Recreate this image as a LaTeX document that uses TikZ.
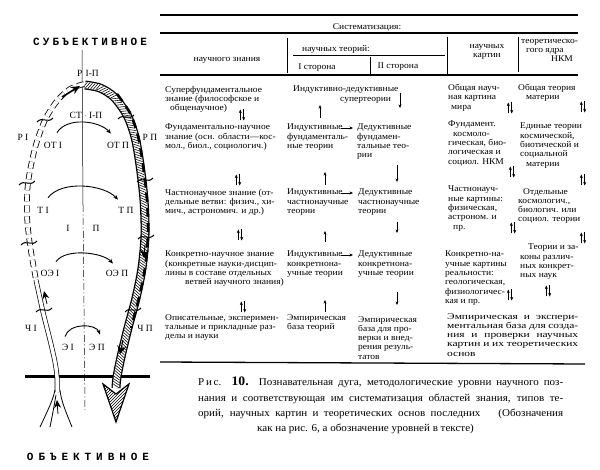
\documentclass[tikz,border=0pt]{standalone}
\usepackage{fontspec}
\setmainfont{Liberation Serif}[FakeStretch=1.08]
\newfontfamily\plainserif{Liberation Serif}
\newfontfamily\widefont{Liberation Serif}[FakeStretch=1.3]
\newfontfamily\captfont{Liberation Serif}[FakeStretch=1.05]
\newfontfamily\monofnt{Liberation Mono}
\usetikzlibrary{decorations.markings,arrows.meta,patterns,calc}
\newcommand\UDarr[2]{%
  \draw[smallarr] (#1-1.7,#2+5.5) -- (#1-1.7,#2-5.5);
  \draw[smallarr] (#1+1.7,#2-5.5) -- (#1+1.7,#2+5.5);}
\newcommand\levtickdraw[2]{%
  \draw[levtick] (#1-8,#2+2) .. controls (#1-3,#2-4) and (#1+3,#2+4) .. (#1+8,#2-2);}
\newcommand\jline[1]{\makebox[131pt][s]{#1}}
\begin{document}
\begin{tikzpicture}[x=1pt,y=-1pt,
  tx/.style={font=\fontsize{8.8}{9.3}\selectfont, align=left, inner sep=0pt, anchor=north west},
  hd/.style={font=\fontsize{8.8}{9.3}\selectfont, align=center, inner sep=0pt},
  lbl/.style={font=\plainserif\fontsize{9.5}{10}\selectfont, inner sep=0pt},
  capt/.style={font=\captfont\fontsize{10.5}{12}\selectfont, inner sep=0pt, anchor=base west},
  bigword/.style={font=\monofnt\bfseries\fontsize{11}{12}\selectfont, inner sep=0pt},
  rulethick/.style={line width=1.3pt},
  rulethin/.style={line width=0.6pt},
  arcarrow/.style={line width=0.9pt, -{Stealth[length=5pt,width=4pt]}},
  smallarr/.style={line width=0.5pt, -{Stealth[length=3.6pt,width=3pt]}},
  levtick/.style={line width=1pt},
  hatchband/.style={decorate, decoration={markings,
     mark=between positions 0 and 1 step 2.6pt with {\draw[line width=0.55pt] (-1.8pt,-3.2pt) -- (1.8pt,3.2pt);}}},
]
\fill[white] (0,0) rectangle (600,470);
\useasboundingbox (0,0) rectangle (600,470);

% ================= LEFT: cognitive arc =================
\node[bigword] (subj) at (90,42) {\makebox[114pt][s]{С\hfill У\hfill Б\hfill Ъ\hfill Е\hfill К\hfill Т\hfill И\hfill В\hfill Н\hfill О\hfill Е}};
\node[bigword] (obj) at (88,457) {\makebox[122pt][s]{О\hfill Б\hfill Ъ\hfill Е\hfill К\hfill Т\hfill И\hfill В\hfill Н\hfill О\hfill Е}};

% axis
\draw[line width=0.5pt] (82,50) -- (83,205);
\draw[line width=0.5pt, dash pattern=on 7pt off 2.5pt on 1pt off 2.5pt] (83,205) -- (85,410);

% ground line
\draw[line width=3pt] (25,377) -- (150,377);

% right hatched band (descending)
\draw[line width=9pt] plot[smooth] coordinates {(85,85) (100,88) (114,97) (127,115) (135,137) (140,165) (144,200) (145,235) (142,268) (136,298) (128,328) (121,357) (117,377) (116,388)};
\draw[line width=6.4pt, white] plot[smooth] coordinates {(85,85) (100,88) (114,97) (127,115) (135,137) (140,165) (144,200) (145,235) (142,268) (136,298) (128,328) (121,357) (117,377) (116,388)};
\path[hatchband] (85,85) -- (100,88) -- (114,97) -- (127,115) -- (135,137) -- (140,165) -- (144,200) -- (145,235) -- (142,268) -- (136,298) -- (128,328) -- (121,357) -- (117,377) -- (116,388);
\draw[line width=2.6pt, dash pattern=on 9pt off 6pt] plot[smooth] coordinates {(117,94) (130,113) (138,136) (143,165) (147,200) (148,235) (145,268) (139,298) (131,328)};
\draw[line width=1.2pt, pattern=north east lines] (103,384) -- (116,422) -- (129,384) -- (116,394) -- cycle;
\draw[-{Stealth[length=8pt,width=9pt]}, line width=1pt] (145,245) -- (144,258);
\draw[-{Stealth[length=8pt,width=9pt]}, line width=1pt] (123,340) -- (120,354);

% left path (ascending)
\draw[line width=0.8pt, double distance=4pt, dash pattern=on 7pt off 4pt] plot[smooth] coordinates {(84,84) (70,89) (57,101) (45,120) (35,148) (28,183) (27,215) (30,245) (36,280)};
\draw[line width=0.7pt, double distance=3.5pt] plot[smooth] coordinates {(36,280) (43,312) (50,340) (55,362) (57,377) (57,392)};
\draw[line width=0.8pt] (40,427) .. controls (48,410) and (53,400) .. (55,390);
\draw[line width=0.8pt] (72,427) .. controls (65,410) and (61,400) .. (60,390);
\draw[line width=0.8pt] (50,427) .. controls (53,412) .. (56,395);
\draw[-{Stealth[length=8pt,width=7pt]}, line width=0.8pt] (47,304) -- (44,291);
\draw[-{Stealth[length=8pt,width=7pt]}, line width=0.8pt] (58,414) -- (57,400);
\draw[-{Stealth[length=9pt,width=8pt]}, line width=1.6pt] (62,97) -- (80,86);

% level ticks
\levtickdraw{45}{120}
\levtickdraw{27}{183}
\levtickdraw{29}{243}
\levtickdraw{44}{310}
\levtickdraw{126}{117}
\levtickdraw{145}{180}
\levtickdraw{146}{237}
\levtickdraw{133}{310}

% labels on the arc
\node[lbl] (rip) at (88,73) {Р\,\,I-П};
\node[lbl] (stip) at (86,115) {СТ $\cdot$ I-П};
\node[lbl] (r1) at (23,137) {Р I};
\node[lbl] (r2) at (150,137) {Р П};
\node[lbl] (ot1) at (53,145) {ОТ I};
\node[lbl] (ot2) at (118,145) {ОТ П};
\node[lbl] (t1) at (43,210) {Т I};
\node[lbl] (t2) at (126,210) {Т П};
\node[lbl] (side1) at (68,228) {I};
\node[lbl] (side2) at (96,228) {П};
\node[lbl] (oe1) at (50,273) {ОЭ I};
\node[lbl] (oe2) at (117,273) {ОЭ П};
\node[lbl] (ch1) at (31,328) {Ч I};
\node[lbl] (ch2) at (145,328) {Ч П};
\node[lbl] (e1) at (68,347) {Э I};
\node[lbl] (e2) at (97,347) {Э П};

\draw[arcarrow] ([xshift=4pt,yshift=9pt]ot1.north) .. controls +(10,-16) and +(-12,-13) .. ([xshift=-7pt,yshift=8pt]ot2.north);
\draw[arcarrow] ([xshift=5pt,yshift=9pt]t1.north) .. controls +(14,-18) and +(-14,-15) .. ([xshift=-8pt,yshift=7pt]t2.north);
\draw[arcarrow] ([xshift=6pt,yshift=8pt]oe1.north) .. controls +(10,-14) and +(-10,-11) .. ([xshift=-4pt,yshift=6pt]oe2.north);
\draw[arcarrow] ([xshift=-3pt,yshift=7pt]e1.north) .. controls +(4,-14) and +(-4,-11) .. ([xshift=3pt,yshift=9pt]e2.north);

% ================= TABLE =================
\draw[rulethick] (160,15) -- (578,15);
\draw[rulethick] (160,33) -- (578,33);
\draw[rulethick] (160,75) -- (578,75);
\draw[rulethick] (160,362) -- (585,364);
\draw[rulethin] (287,38) -- (287,73);
\draw[rulethin] (370,57) -- (370,74);
\draw[rulethin] (447,37) -- (447,75);
\draw[rulethin] (518,37) -- (518,72);
\draw[rulethin] (293,55) -- (445,55);

\node[hd] (hsys) at (367,27) {Систематизация:};
\node[hd] (hsci) at (227,60) {научного знания};
\node[hd] (hth) at (336,49) {научных теорий:};
\node[hd] (hs1) at (317,68) {I сторона};
\node[hd] (hs2) at (398,67) {II сторона};
\node[hd] (hpic) at (487,52) {научных\\картин};
\node[tx] (hcore) at (521,39) {теоретическо-\\\hspace*{5pt}гого ядра\\\hspace*{30pt}НКМ};

% column 1
\node[tx] (c1a) at (165,86) {Суперфундаментальное\\знание (философское и\\\hspace*{5pt}общенаучное)};
\node[tx] (c1b) at (165,124) {Фундаментально-научное\\знание (осн. области---кос-\\мол., биол., социологич.)};
\node[tx] (c1c) at (165,189) {Частнонаучное знание (от-\\дельные ветви: физич., хи-\\мич., астрономич. и др.)};
\node[tx] (c1d) at (165,251) {Конкретно-научное знание\\(конкретные науки-дисцип-\\лины в составе отдельных\\\hspace*{20pt}ветвей научного знания)};
\node[tx] (c1e) at (165,314) {Описательные, эксперимен-\\тальные и прикладные раз-\\делы и науки};

% columns 2,3
\node[tx] (c2a) at (293,86) {Индуктивно-дедуктивные\\\hspace*{47pt}супертеории};
\node[tx] (c2b) at (287,124) {Индуктивные\\фундаменталь-\\ные теории};
\node[tx] (c3b) at (357,124) {Дедуктивные\\фундамен-\\тальные тео-\\рии};
\node[tx] (c2c) at (287,189) {Индуктивные\\частнонаучные\\теории};
\node[tx] (c3c) at (358,189) {Дедуктивные\\частнонаучные\\теории};
\node[tx] (c2d) at (287,251) {Индуктивные\\конкретнона-\\учные теории};
\node[tx] (c3d) at (358,251) {Дедуктивные\\конкретнона-\\учные теории};
\node[tx] (c2e) at (287,314) {Эмпирическая\\база теорий};
\node[tx] (c3e) at (358,316) {Эмпирическая\\база для про-\\верки и внед-\\рения резуль-\\татов};

% column 4
\node[tx] (c4a) at (448,84) {Общая науч-\\ная картина\\\hspace*{3pt}мира};
\node[tx] (c4b) at (448,121) {Фундамент.\\\hspace*{5pt}космоло-\\гическая, био-\\логическая и\\социол. НКМ};
\node[tx] (c4c) at (448,186) {Частнонауч-\\ные картины:\\физическая,\\астроном. и\\\hspace*{5pt}пр.};
\node[tx] (c4d) at (445,251) {Конкретно-на-\\учные картины\\реальности:\\геологическая,\\физиологичес-\\кая и пр.};
\node[tx, font=\widefont\fontsize{8.8}{9.3}\selectfont] (c4e) at (447,313) {\jline{Эмпирическая и экспери-}\\\jline{ментальная база для созда-}\\\jline{ния и проверки научных}\\\jline{картин и их теоретических}\\основ};

% column 5
\node[tx] (c5a) at (518,84) {Общая теория\\\hspace*{8pt}материи};
\node[tx] (c5b) at (520,123) {Единые теории\\космической,\\биотической и\\социальной\\\hspace*{6pt}материи};
\node[tx] (c5c) at (518,188) {\hspace*{5pt}Отдельные\\космологич.,\\биологич. или\\социол. теории};
\node[tx] (c5d) at (520,244) {\hspace*{8pt}Теории и за-\\коны различ-\\ных конкрет-\\ных наук};

% horizontal inductive -> deductive arrows
\draw[smallarr] ($(c3b.north west)+(-16,4)$) -- ($(c3b.north west)+(-4,4)$);
\draw[smallarr] ($(c3c.north west)+(-17,4)$) -- ($(c3c.north west)+(-5,4)$);
\draw[smallarr] ($(c3d.north west)+(-17,4)$) -- ($(c3d.north west)+(-5,4)$);

% vertical arrows col 2 (up) and col 3 (down)
\draw[smallarr] (320,118) -- (320,105);
\draw[smallarr] (325,185) -- (325,172);
\draw[smallarr] (325,242) -- (325,231);
\draw[smallarr] (325,312) -- (325,300);
\draw[smallarr] (400,93) -- (400,108);
\draw[smallarr] (397,165) -- (397,182);
\draw[smallarr] (397,222) -- (397,233);
\draw[smallarr] (397,292) -- (397,305);

% double arrows
\UDarr{242}{115}
\UDarr{238}{180}
\UDarr{240}{235}
\UDarr{243}{307}
\UDarr{510}{108}
\UDarr{512}{172}
\UDarr{513}{228}
\UDarr{510}{295}
\UDarr{583}{107}
\UDarr{583}{180}
\UDarr{583}{238}
\UDarr{548}{291}

% ================= CAPTION =================
\node[capt] (cap1) at (198,385.5) {\makebox[365pt][s]{Р\,и\,с. {\bfseries\fontsize{13}{13}\selectfont 10.} Познавательная дуга, методологические уровни научного поз-}};
\node[capt] (cap2) at (198,401.5) {\makebox[365pt][s]{нания и соответствующая им систематизация областей знания, типов те-}};
\node[capt] (cap3) at (198,416.5) {\makebox[365pt][s]{орий, научных картин и теоретических основ последних\hspace{1.2em} (Обозначения}};
\node[capt] (cap4) at (257,431.5) {как на рис. 6, а обозначение уровней в тексте)};
\end{tikzpicture}
\end{document}
